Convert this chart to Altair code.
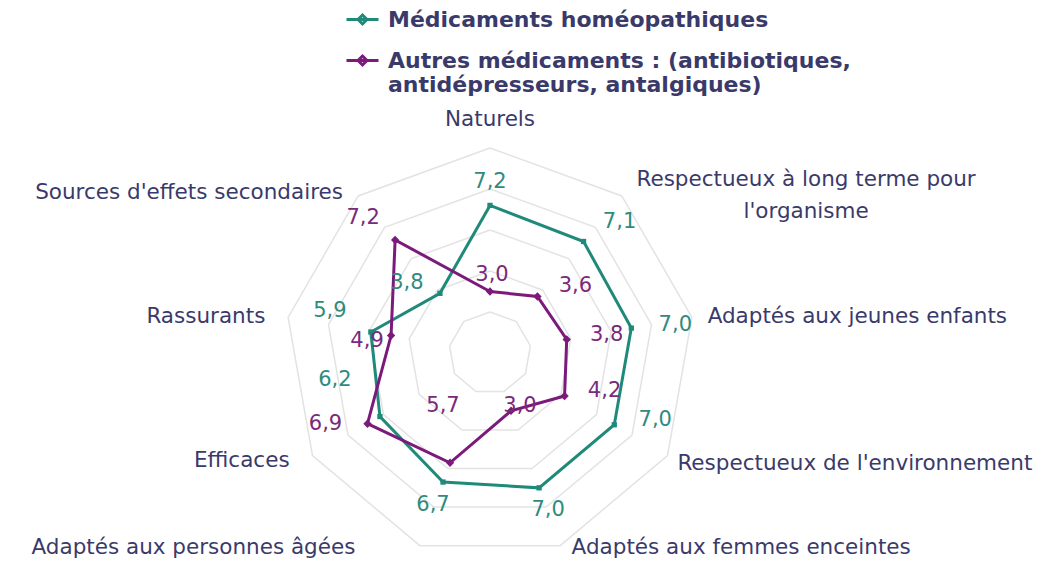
import math
import altair as alt
import pandas as pd

# ---------------- data ----------------
categories = [
    "Naturels",
    "Respectueux à long terme pour|l'organisme",
    "Adaptés aux jeunes enfants",
    "Respectueux de l'environnement",
    "Adaptés aux femmes enceintes",
    "Adaptés aux personnes âgées",
    "Efficaces",
    "Rassurants",
    "Sources d'effets secondaires",
]
homeo = [7.2, 7.1, 7.0, 7.0, 7.0, 6.7, 6.2, 5.9, 3.8]
autres = [3.0, 3.6, 3.8, 4.2, 3.0, 5.7, 6.9, 4.9, 7.2]
series_names = [
    "Médicaments homéopathiques",
    "Autres médicaments : (antibiotiques,|antidépresseurs, antalgiques)",
]
grid_levels = [2, 4, 6, 8, 10]

# ---------------- style ----------------
COL_HOMEO = "#1f8a7a"
COL_AUTRES = "#7b1a7b"
TXT_HOMEO = "#2f8b7e"
TXT_AUTRES = "#7a2a7a"
NAVY = "#3a3a6a"
GRID = "#e3e3e3"
FONT = "DejaVu Sans"

W, H = 1032, 551
U = 20.5                 # px per unit
CX, CY = 482, 345        # radar centre in plot px
XDOM = [-CX / U, (W - CX) / U]
YDOM = [-(H - CY) / U, CY / U]
LABEL_R = 221 / U

# label alignment / pixel nudges (style only)
CAT_ALIGN = ["center", "center", "left", "left", "left", "right", "right", "right", "right"]
CAT_NUDGE = [(0, -12), (174, -4), (0, 2), (-4, 0), (6, -13), (-59, -13), (-9, -3), (-7, 2), (-5, 9)]
VAL_NUDGE = {
    0: [(0, -23), (36, -20), (44, -3), (41, -5), (9, 22), (-10, 23), (-45, -37), (-41, -21), (-33, -10)],
    1: [(2, -17), (38, -10), (40, -4), (40, -5), (9, -5), (-7, -57), (-42, 0), (-24, 5), (-32, -22)],
}

n = len(categories)


def polar(r, i):
    a = math.radians(360.0 * i / n)
    return r * math.sin(a), r * math.cos(a)


# grid rings
grid_rows = []
for lv in grid_levels:
    for k in range(n + 1):
        x, y = polar(lv, k % n)
        grid_rows.append({"level": lv, "k": k, "x": x, "y": y})
grid_df = pd.DataFrame(grid_rows)

# series
ser_rows, lab_rows = [], []
for s, (name, vals) in enumerate(zip(series_names, [homeo, autres])):
    for k in range(n + 1):
        i = k % n
        x, y = polar(vals[i], i)
        ser_rows.append({"series": name, "s": s, "k": k, "x": x, "y": y, "v": vals[i]})
    for i in range(n):
        x, y = polar(vals[i], i)
        dx, dy = VAL_NUDGE[s][i]
        lab_rows.append({
            "series": name, "s": s,
            "x": x + dx / U, "y": y - dy / U,
            "txt": f"{vals[i]:.1f}".replace(".", ","),
        })
ser_df = pd.DataFrame(ser_rows)
pts_df = ser_df[ser_df["k"] < n]
lab_df = pd.DataFrame(lab_rows)

cat_rows = []
for i, c in enumerate(categories):
    x, y = polar(LABEL_R, i)
    dx, dy = CAT_NUDGE[i]
    cat_rows.append({"cat": c, "align": CAT_ALIGN[i], "x": x + dx / U, "y": y - dy / U})
cat_df = pd.DataFrame(cat_rows)

xs = alt.Scale(domain=XDOM, nice=False, zero=False)
ys = alt.Scale(domain=YDOM, nice=False, zero=False)
X = alt.X("x:Q", scale=xs, axis=None)
Y = alt.Y("y:Q", scale=ys, axis=None)

color_scale = alt.Scale(domain=series_names, range=[COL_HOMEO, COL_AUTRES])

grid = alt.Chart(grid_df).mark_line(color=GRID, strokeWidth=1.5).encode(
    x=X, y=Y, detail="level:N", order="k:Q"
)

lines = alt.Chart(ser_df).mark_line(strokeWidth=3).encode(
    x=X, y=Y, order="k:Q",
    color=alt.Color(
        "series:N", scale=color_scale,
        legend=alt.Legend(
            title=None, orient="none", legendX=337, legendY=-6,
            symbolType="M-1,0L1,0M0,-0.28L0.28,0L0,0.28L-0.28,0Z",
            symbolSize=1024, symbolStrokeWidth=3,
            labelFont=FONT, labelFontWeight="bold", labelFontSize=22,
            labelColor=NAVY, labelLimit=1000, labelOffset=8,
            labelExpr="split(datum.label, '|')",
            rowPadding=12, padding=0,
        ),
    ),
)

pts_h = alt.Chart(pts_df[pts_df["s"] == 0]).mark_point(
    shape="square", filled=True, size=28, opacity=1, color=COL_HOMEO
).encode(x=X, y=Y)
pts_a = alt.Chart(pts_df[pts_df["s"] == 1]).mark_point(
    shape="diamond", filled=True, size=70, opacity=1, color=COL_AUTRES
).encode(x=X, y=Y)

vlab_h = alt.Chart(lab_df[lab_df["s"] == 0]).mark_text(
    font=FONT, fontSize=21, color=TXT_HOMEO, baseline="middle", align="center"
).encode(x=X, y=Y, text="txt:N")
vlab_a = alt.Chart(lab_df[lab_df["s"] == 1]).mark_text(
    font=FONT, fontSize=21, color=TXT_AUTRES, baseline="middle", align="center"
).encode(x=X, y=Y, text="txt:N")

cat_layers = []
for al in ["left", "center", "right"]:
    sub = cat_df[cat_df["align"] == al]
    cat_layers.append(
        alt.Chart(sub).mark_text(
            font=FONT, fontSize=21.5, color=NAVY, align=al, baseline="middle",
            lineBreak="|", lineHeight=32,
        ).encode(x=X, y=Y, text="cat:N")
    )

chart = alt.layer(grid, lines, pts_h, pts_a, vlab_h, vlab_a, *cat_layers).properties(
    width=W, height=H, padding=0, autosize=alt.AutoSizeParams(type="none")
).configure_view(stroke=None)

chart.save("out.html", embed_options={"renderer": "svg", "actions": False})
